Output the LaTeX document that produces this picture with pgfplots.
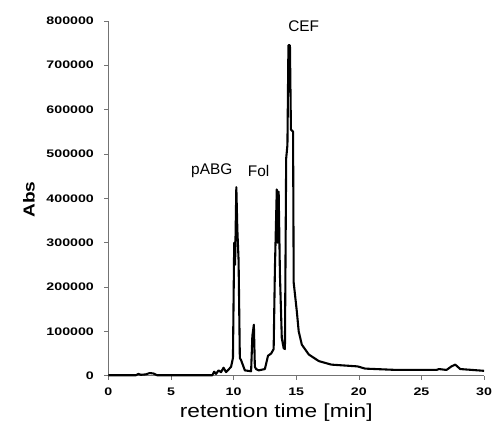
\documentclass[border=0pt]{standalone}
\usepackage{pgfplots}
\pgfplotsset{compat=1.18}
\usepackage{fontspec}
\setmainfont{Liberation Sans}
\newfontfamily\tickfont[FakeStretch=1.3]{Liberation Sans}
\newfontfamily\labfont[FakeStretch=1.2]{Liberation Sans}
\usetikzlibrary{calc}

\begin{document}
\begin{tikzpicture}
\begin{axis}[
  name=ax,
  width=378pt, height=357pt, scale only axis,
  xmin=0, xmax=30, ymin=0, ymax=800000,
  axis lines=left,
  axis line style={black!55, line width=0.6pt, -},
  xtick={0,5,...,30},
  ytick={0,100000,...,800000},
  scaled y ticks=false,
  /pgf/number format/fixed,
  /pgf/number format/1000 sep={},
  /pgf/number format/assume math mode=true,
  tick align=outside,
  major tick length=4pt,
  tick style={black!55, line width=0.6pt},
  ticklabel style={font=\tickfont\bfseries\fontsize{11}{13}\selectfont},
  yticklabel style={xshift=-7pt},
  xticklabel style={yshift=-5pt},
  xlabel={retention time [min]},
  xlabel style={font=\labfont\fontsize{19}{22}\selectfont,
    at={(axis description cs:0.447,0)}, anchor=center, yshift=-37pt},
  ylabel={Abs},
  ylabel style={font=\labfont\bfseries\fontsize{16}{19}\selectfont,
    at={(axis description cs:0,0.496)}, anchor=center, yshift=80pt},
  clip=false,
]
\addplot[black, line width=2.1pt, line join=round] coordinates {
(0,1000) (2.2,1000) (2.4,4000) (2.6,2000) (3.0,3000) (3.3,6000) (3.6,5000)
(3.9,1000) (8.3,1000) (8.45,9000) (8.6,4000) (8.8,12000) (9.0,8000)
(9.2,18000) (9.4,8000) (9.8,20000) (9.95,40000) (10.05,300000)
(10.12,250000) (10.22,425000) (10.3,330000) (10.4,260000) (10.5,40000)
(10.6,35000) (10.9,12000) (11.4,10000) (11.5,90000) (11.62,115000)
(11.7,20000) (11.8,15000) (12.0,12000) (12.5,15000) (12.75,45000)
(13.0,50000) (13.2,60000) (13.3,240000) (13.45,420000) (13.52,300000)
(13.6,415000) (13.7,230000) (13.85,85000) (14.0,62000) (14.1,60000)
(14.2,490000) (14.3,520000) (14.38,745000) (14.5,745000) (14.58,555000)
(14.75,550000) (14.8,210000) (15.05,145000) (15.2,100000) (15.45,70000)
(16.0,48000) (16.8,33000) (17.8,25000) (19.9,21000) (20.5,16000)
(23.0,13000) (26.2,13000) (26.4,15000) (27.0,13000) (27.4,21000)
(27.7,25000) (28.1,15000) (30,11000)
};
\node[font=\fontsize{15.5}{18}\selectfont] at (axis cs:8.26,461600) {pABG};
\node[font=\fontsize{15.5}{18}\selectfont] at (axis cs:12.0,461600) {Fol};
\node[font=\fontsize{15.5}{18}\selectfont] at (axis cs:15.6,787000) {CEF};
\end{axis}
\pgfresetboundingbox
\path ($(ax.south west)+(-109pt,-48pt)$) rectangle ($(ax.north east)+(9pt,21pt)$);
\end{tikzpicture}
\end{document}
